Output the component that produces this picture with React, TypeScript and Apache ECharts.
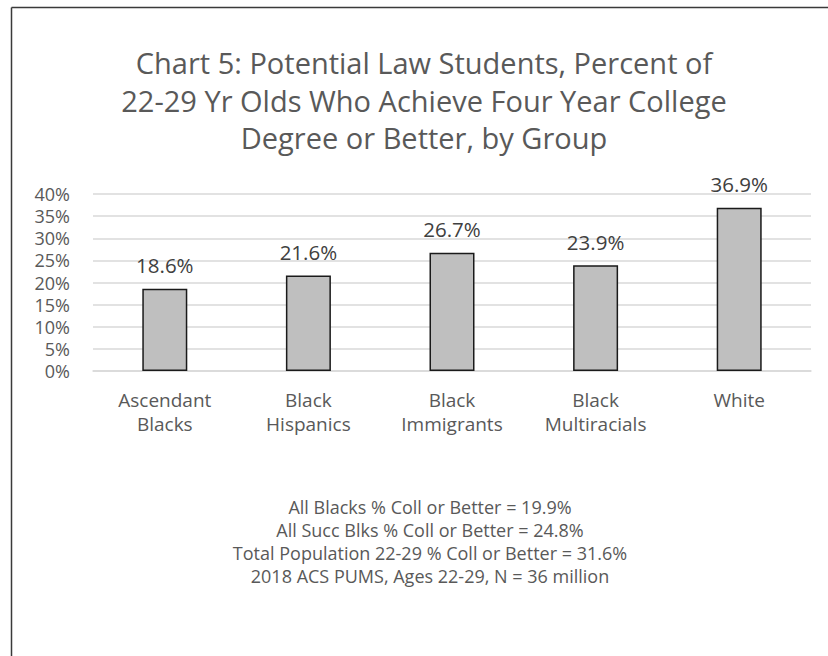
import React, { useEffect, useRef } from "react";
import * as echarts from "echarts";

const categories = ["Ascendant\nBlacks", "Black\nHispanics", "Black\nImmigrants", "Black\nMultiracials", "White"];
const values = [18.6, 21.6, 26.7, 23.9, 36.9];
const titleLines = [
  "Chart 5: Potential Law Students, Percent of",
  "22-29 Yr Olds Who Achieve Four Year College",
  "Degree or Better, by Group",
];
const noteLines = [
  "All Blacks % Coll or Better = 19.9%",
  "All Succ Blks % Coll or Better = 24.8%",
  "Total Population 22-29 % Coll or Better = 31.6%",
  "2018 ACS PUMS, Ages 22-29, N = 36 million",
];

const FONT = "Open Sans";

export default function App() {
  const ref = useRef<HTMLDivElement>(null);
  useEffect(() => {
    if (!ref.current) return;
    const chart = echarts.init(ref.current, undefined, { renderer: "svg" });
    chart.setOption({
      animation: false,
      backgroundColor: "#ffffff",
      textStyle: { fontFamily: FONT },
      grid: { left: 93, right: 17, top: 194, bottom: 285, containLabel: false },
      xAxis: {
        type: "category",
        data: categories,
        axisLine: { show: true, lineStyle: { color: "#d9d9d9", width: 1.5 } },
        axisTick: { show: false },
        axisLabel: { color: "#595959", fontSize: 19, fontFamily: FONT, lineHeight: 24, margin: 17, interval: 0 },
      },
      yAxis: {
        type: "value",
        min: 0,
        max: 40,
        interval: 5,
        axisLine: { show: false },
        axisTick: { show: false },
        splitLine: { lineStyle: { color: "#d9d9d9", width: 1.5 } },
        axisLabel: { color: "#595959", fontSize: 18, fontFamily: FONT, margin: 23, formatter: "{value}%" },
      },
      series: [
        {
          type: "bar",
          data: values,
          barWidth: 45,
          itemStyle: { color: "#bfbfbf", borderColor: "#1a1a1a", borderWidth: 1.5 },
          label: {
            show: true,
            position: "top",
            distance: 13,
            color: "#404040",
            fontSize: 20.5,
            fontFamily: FONT,
            formatter: (p: any) => `${p.value}%`,
          },
        },
      ],
      graphic: [
        {
          type: "line",
          shape: { x1: 11.5, y1: 7.5, x2: 828, y2: 7.5 },
          style: { stroke: "#3a3a3a", lineWidth: 1.5 },
          silent: true,
          z: 100,
        },
        {
          type: "line",
          shape: { x1: 11.5, y1: 7.5, x2: 11.5, y2: 656 },
          style: { stroke: "#3a3a3a", lineWidth: 1.5 },
          silent: true,
          z: 100,
        },
        {
          type: "text",
          x: 424,
          y: 100,
          style: {
            text: titleLines.join("\n"),
            fill: "#595959",
            font: `29px ${FONT}`,
            lineHeight: 37.5,
            align: "center",
            verticalAlign: "middle",
          },
        },
        {
          type: "text",
          x: 430,
          y: 541.5,
          style: {
            text: noteLines.join("\n"),
            fill: "#595959",
            font: `18px ${FONT}`,
            lineHeight: 23,
            align: "center",
            verticalAlign: "middle",
          },
        },
      ],
    });
    return () => chart.dispose();
  }, []);
  return <div ref={ref} style={{ position: "absolute", left: 0, top: 0, width: 828, height: 656 }} />;
}
